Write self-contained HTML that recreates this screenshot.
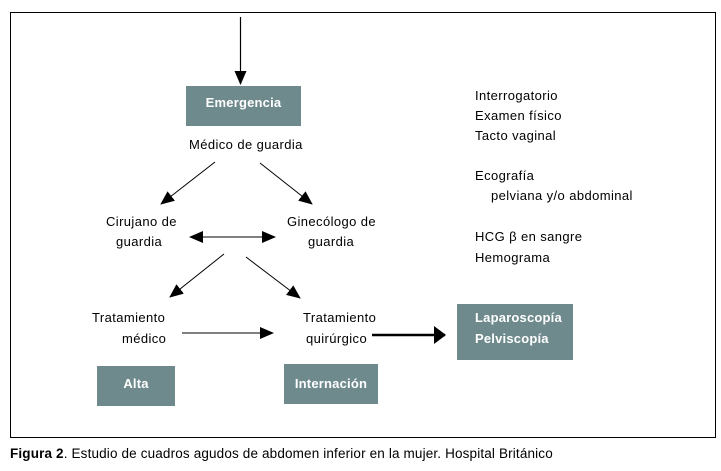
<!DOCTYPE html>
<html><head><meta charset="utf-8"><style>
html,body{margin:0;padding:0;background:#fff;width:721px;height:471px;overflow:hidden}
svg{display:block}
text{font-family:"Liberation Sans",sans-serif;font-size:13px;fill:#000;letter-spacing:0.4px}
.w{fill:#fff;font-weight:bold;font-size:13px;letter-spacing:0.2px}
</style></head><body>
<svg width="721" height="471" viewBox="0 0 721 471">
<defs>
<marker id="a" markerWidth="14" markerHeight="12" refX="13" refY="6" orient="auto" markerUnits="userSpaceOnUse"><path d="M0,0 L14,6 L0,12 z" fill="#000"/></marker>
<marker id="as" markerWidth="14" markerHeight="12" refX="1" refY="6" orient="auto" markerUnits="userSpaceOnUse"><path d="M14,0 L0,6 L14,12 z" fill="#000"/></marker>
<marker id="ab" markerWidth="12" markerHeight="18" refX="11" refY="9" orient="auto" markerUnits="userSpaceOnUse"><path d="M0,0 L12,9 L0,18 z" fill="#000"/></marker>
</defs>
<rect x="10.5" y="12.5" width="705" height="425" fill="none" stroke="#000" stroke-width="1"/>
<line x1="240.5" y1="17" x2="240.5" y2="84" stroke="#000" stroke-width="1.2" marker-end="url(#a)"/>
<rect x="186" y="86" width="115" height="40" fill="#6e8a8c"/>
<text x="243.5" y="107" class="w" text-anchor="middle">Emergencia</text>
<text x="189" y="149">Médico de guardia</text>
<line x1="215" y1="162" x2="161" y2="204" stroke="#000" marker-end="url(#a)"/>
<line x1="260" y1="163" x2="312" y2="204" stroke="#000" marker-end="url(#a)"/>
<text x="106" y="226">Cirujano de</text>
<text x="116" y="246">guardia</text>
<text x="287" y="226">Ginecólogo de</text>
<text x="308" y="246">guardia</text>
<line x1="190" y1="237" x2="275" y2="237" stroke="#000" marker-start="url(#as)" marker-end="url(#a)"/>
<line x1="224" y1="254" x2="170" y2="297" stroke="#000" marker-end="url(#a)"/>
<line x1="246" y1="257" x2="300" y2="298" stroke="#000" marker-end="url(#a)"/>
<text x="92" y="322">Tratamiento</text>
<text x="122" y="343">médico</text>
<text x="303" y="322">Tratamiento</text>
<text x="306" y="343">quirúrgico</text>
<line x1="182" y1="333" x2="273" y2="333" stroke="#000" marker-end="url(#a)"/>
<line x1="372" y1="335" x2="445" y2="335" stroke="#000" stroke-width="2.5" marker-end="url(#ab)"/>
<rect x="457" y="304" width="116" height="56" fill="#6e8a8c"/>
<text x="475" y="322" class="w">Laparoscopía</text>
<text x="475" y="343" class="w">Pelviscopía</text>
<rect x="97" y="366" width="78" height="40" fill="#6e8a8c"/>
<text x="136" y="388" class="w" text-anchor="middle">Alta</text>
<rect x="284" y="364" width="94" height="40" fill="#6e8a8c"/>
<text x="331" y="388" class="w" text-anchor="middle">Internación</text>
<text x="475" y="100">Interrogatorio</text>
<text x="475" y="120">Examen físico</text>
<text x="475" y="140">Tacto vaginal</text>
<text x="475" y="180">Ecografía</text>
<text x="491" y="200">pelviana y/o abdominal</text>
<text x="475" y="241">HCG β en sangre</text>
<text x="475" y="262">Hemograma</text>
<text x="10" y="458" style="font-size:13.5px;letter-spacing:0.15px"><tspan font-weight="bold">Figura 2</tspan>. Estudio de cuadros agudos de abdomen inferior en la mujer. Hospital Británico</text>
</svg>
</body></html>
